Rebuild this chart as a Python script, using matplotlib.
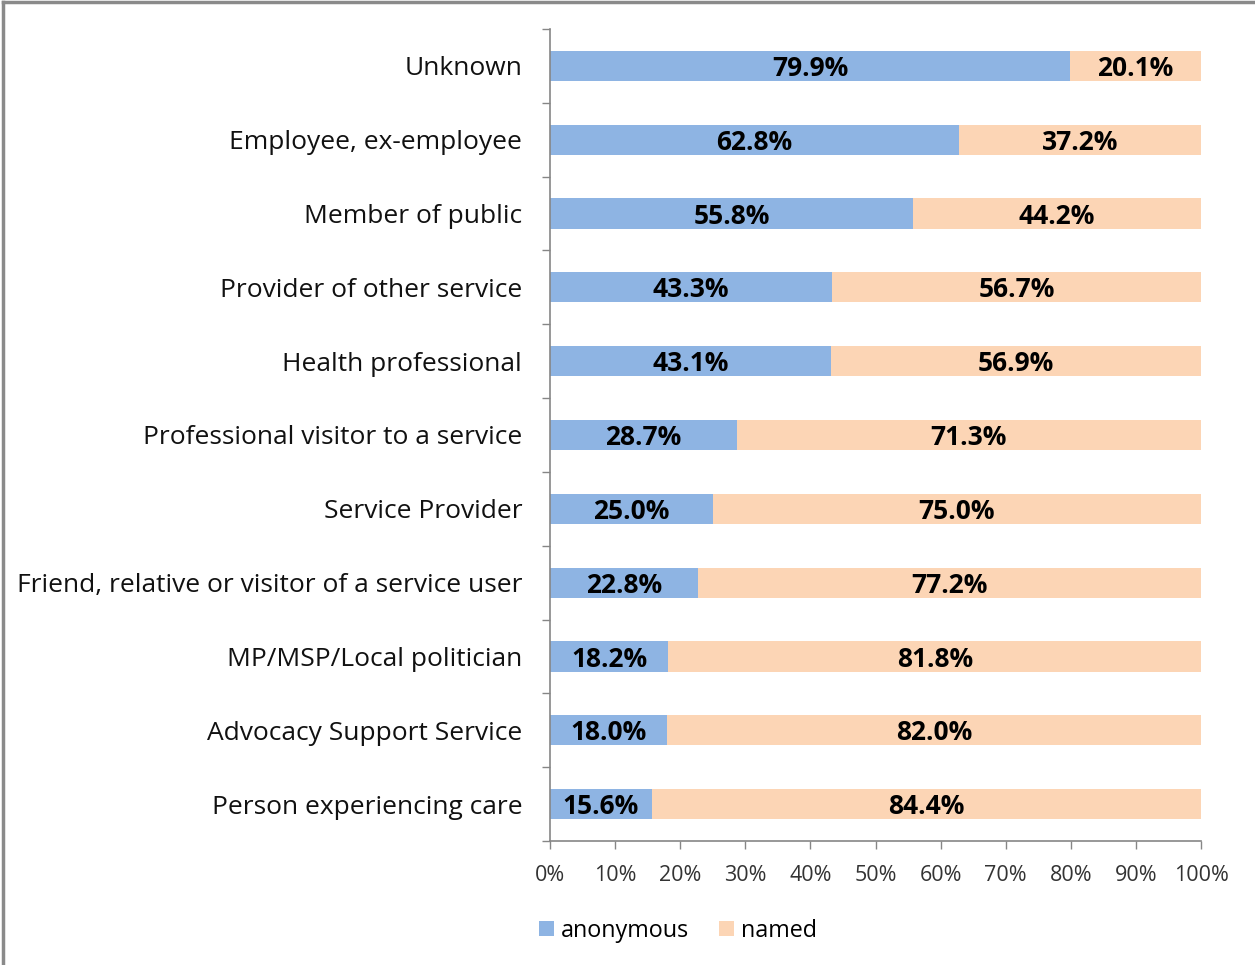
import matplotlib
matplotlib.use("Agg")
import matplotlib.pyplot as plt
from matplotlib.lines import Line2D
from matplotlib.patches import Patch

categories = [
    "Unknown",
    "Employee, ex-employee",
    "Member of public",
    "Provider of other service",
    "Health professional",
    "Professional visitor to a service",
    "Service Provider",
    "Friend, relative or visitor of a service user",
    "MP/MSP/Local politician",
    "Advocacy Support Service",
    "Person experiencing care",
]
anonymous = [79.9, 62.8, 55.8, 43.3, 43.1, 28.7, 25.0, 22.8, 18.2, 18.0, 15.6]
named = [20.1, 37.2, 44.2, 56.7, 56.9, 71.3, 75.0, 77.2, 81.8, 82.0, 84.4]
xticks = [0, 10, 20, 30, 40, 50, 60, 70, 80, 90, 100]

BLUE = "#8EB4E3"
PEACH = "#FCD5B5"
AXIS = "#868686"
TEXT = "#111111"

plt.rcParams["font.family"] = ["Open Sans", "DejaVu Sans"]

W, H = 1255, 965
fig = plt.figure(figsize=(W / 100, H / 100), dpi=100)
ax = fig.add_axes([550 / W, 1 - 841 / H, (1201 - 550) / W, (841 - 29) / H])

y = list(range(len(categories)))
bh = 0.41
ax.barh(y, anonymous, height=bh, color=BLUE, edgecolor="none", label="anonymous")
ax.barh(y, named, left=anonymous, height=bh, color=PEACH, edgecolor="none", label="named")

# value labels centred inside each segment
dy = 0.035
for i, (a, n) in enumerate(zip(anonymous, named)):
    ax.text(a / 2, i + dy, f"{a:.1f}%", ha="center", va="center",
            fontsize=19, fontweight="bold", color="black")
    ax.text(a + n / 2, i + dy, f"{n:.1f}%", ha="center", va="center",
            fontsize=19, fontweight="bold", color="black")

ax.set_xlim(0, 100)
ax.set_ylim(len(categories) - 0.5, -0.5)

ax.set_yticks(y)
ax.set_yticklabels(categories, fontsize=19, color=TEXT)
ax.tick_params(axis="y", which="major", length=0, pad=20)
ax.set_yticks([i - 0.5 for i in range(len(categories) + 1)], minor=True)
ax.tick_params(axis="y", which="minor", length=6, width=1, color=AXIS, direction="out")

ax.set_xticks(xticks)
ax.set_xticklabels([f"{t}%" for t in xticks], fontsize=15.5, color="#333333")
ax.tick_params(axis="x", length=6, width=1, color=AXIS, direction="out", pad=11)

for side in ("top", "right"):
    ax.spines[side].set_visible(False)
for side in ("left", "bottom"):
    ax.spines[side].set_color(AXIS)
    ax.spines[side].set_linewidth(1.2)

handles = [Patch(facecolor=BLUE, edgecolor="none", label="anonymous"),
           Patch(facecolor=PEACH, edgecolor="none", label="named")]
fig.legend(handles=handles, loc="center", bbox_to_anchor=(678 / W, 1 - 931 / H),
           ncol=2, frameon=False, fontsize=16.8, handlelength=0.62, handleheight=0.62,
           handletextpad=0.3, columnspacing=1.3, borderpad=0)

# outer frame on top and left edges
fig.add_artist(Line2D([3 / W, 1], [1 - 2 / H, 1 - 2 / H], color="#8a8a8a", lw=2.5,
                      transform=fig.transFigure))
fig.add_artist(Line2D([3 / W, 3 / W], [0, 1 - 2 / H], color="#8a8a8a", lw=2.5,
                      transform=fig.transFigure))

fig.savefig("out.png", dpi=100)
